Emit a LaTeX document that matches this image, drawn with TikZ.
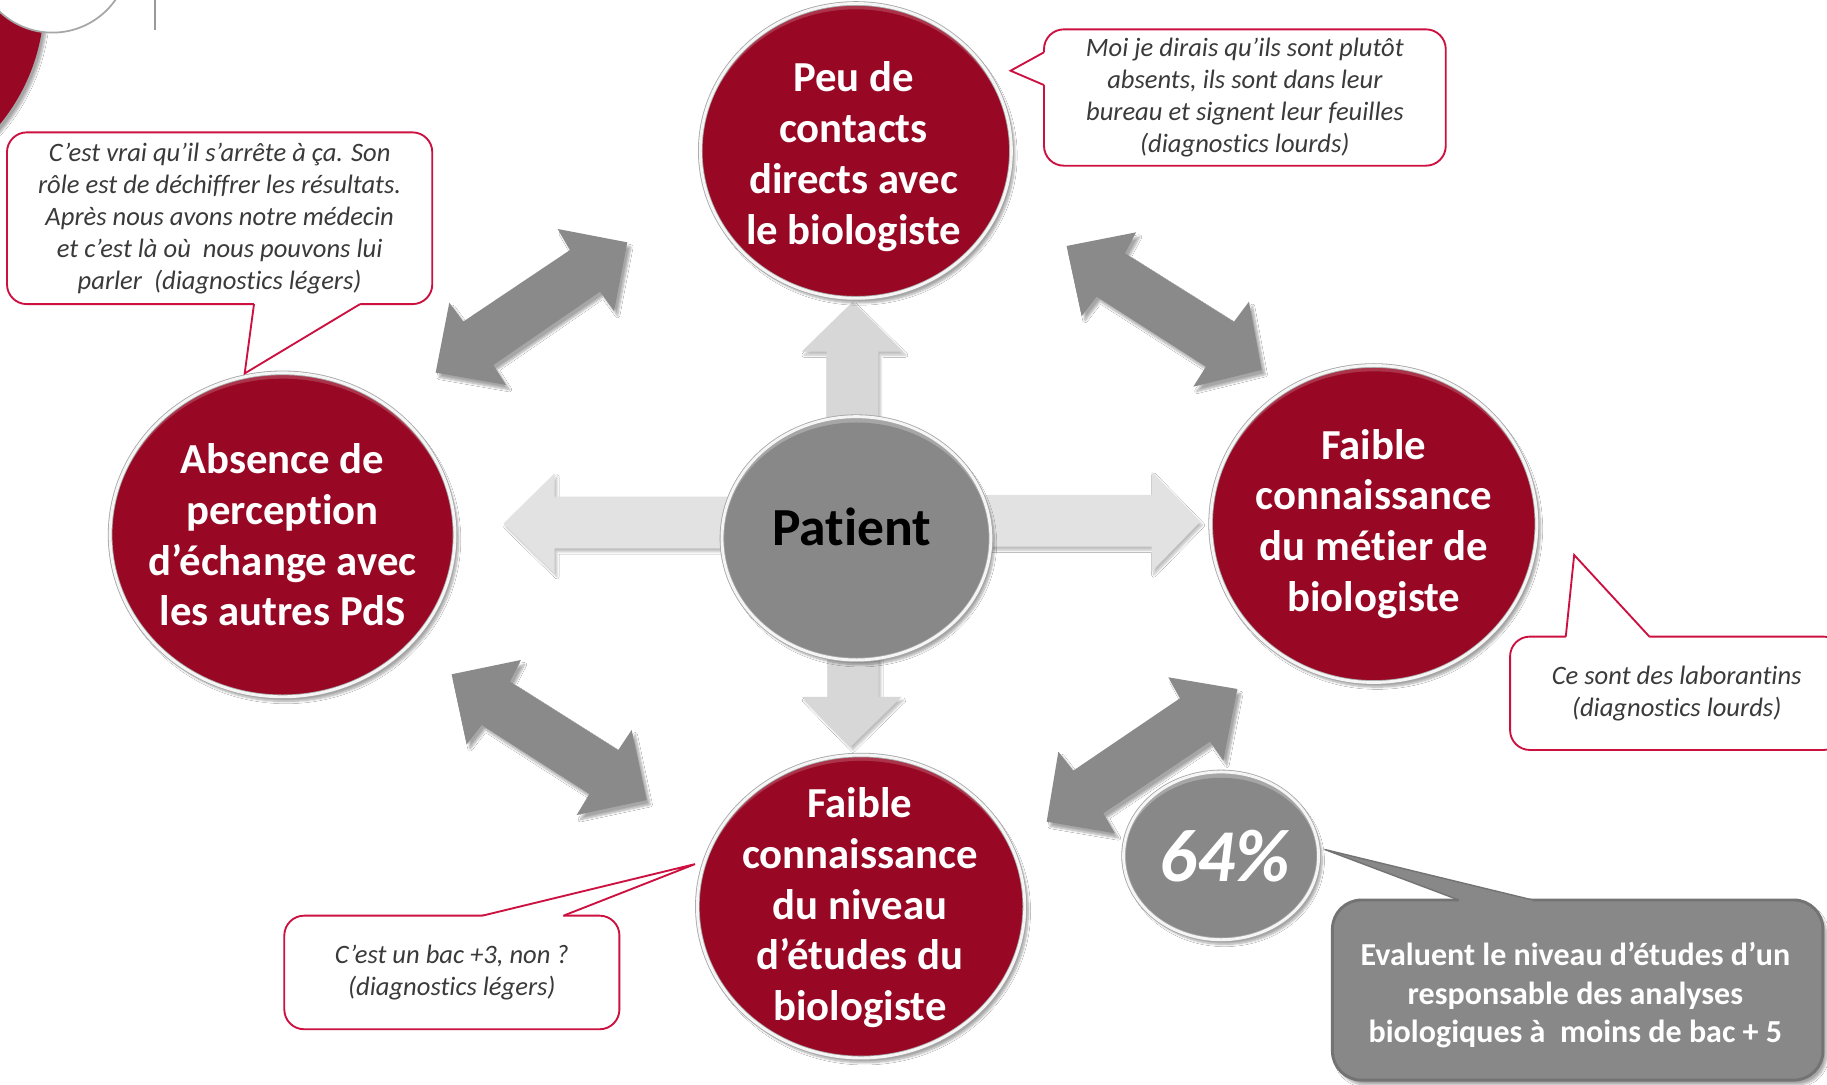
\documentclass[tikz,border=0pt]{standalone}
\usepackage{fontspec}
\setmainfont[Ligatures=NoCommon]{Carlito}
\usetikzlibrary{shapes.geometric,shadows.blur}
\definecolor{crimson}{RGB}{152,8,36}
\definecolor{calred}{RGB}{204,16,64}
\definecolor{txtgray}{RGB}{58,58,58}
\definecolor{darkarrow}{RGB}{138,138,138}
\definecolor{lightarrow}{RGB}{226,226,226}
\definecolor{ballgray}{RGB}{136,136,136}
\begin{document}
\begin{tikzpicture}[x=1pt,y=-1pt,
  softshadow/.style={blur shadow={shadow xshift=3pt,shadow yshift=-4pt,shadow blur steps=8,shadow opacity=35}},
  redball/.style 2 args={ellipse, inner sep=0pt, minimum width=2*#1, minimum height=2*#2,
    fill=crimson!82!white, draw=gray!70, double=gray!8, double distance=2.5pt, line width=0.7pt,
    softshadow,
    path picture={\fill[crimson] ([yshift=-3pt]path picture bounding box.center) ellipse [x radius=#1pt-0.5pt, y radius=#2pt-2pt];}},
  grayball/.style 2 args={ellipse, inner sep=0pt, minimum width=2*#1, minimum height=2*#2,
    fill=ballgray!75!white, draw=gray!70, double=gray!8, double distance=2.5pt, line width=0.7pt,
    softshadow,
    path picture={\fill[ballgray] ([yshift=-3pt]path picture bounding box.center) ellipse [x radius=#1pt-0.5pt, y radius=#2pt-2pt];}},
  balltext/.style={text=white, font=\bfseries\fontsize{36.7}{43.6}\selectfont, align=center, inner sep=0pt},
  callout/.style={draw=calred, line width=1.6pt, fill=white, rounded corners=17pt, inner sep=0pt,
    text=txtgray, font=\itshape\fontsize{22.8}{27.4}\selectfont, align=center},
  tailline/.style={draw=calred, line width=1.6pt, line join=miter},
  bigarrow/.style={fill=darkarrow, softshadow},
  smallarrow/.style={fill=lightarrow, blur shadow={shadow xshift=2pt,shadow yshift=-3pt,shadow blur steps=6,shadow opacity=25}}
]
\useasboundingbox (0,0) rectangle (1568,931);
\clip (0,0) rectangle (1568,931);
\fill[white] (0,0) rectangle (1568,931);

% top-left decoration
\fill[crimson, softshadow] (-130,0) circle[radius=168pt];
\draw[gray!70, line width=1.5pt, fill=white] (45,-38) circle[radius=66pt];
\draw[gray!80, line width=1.5pt] (133,0) -- (133,26);

% light arrows from the patient
\fill[smallarrow, fill=lightarrow!95!black] (709.5,370) -- (709.5,301.8) -- (688,301.8) -- (731.8,259) -- (775.3,301.8) -- (753.8,301.8) -- (753.8,370) -- cycle;
\fill[smallarrow, fill=lightarrow!95!black] (710.3,560) -- (710.3,598) -- (688.3,598) -- (730,640.8) -- (773.7,598) -- (754,598) -- (754,560) -- cycle;
\fill[smallarrow] (630,426.3) -- (476,426.3) -- (476,406.2) -- (432.2,449.2) -- (476,492) -- (476,470.6) -- (630,470.6) -- cycle;
\fill[smallarrow] (840,424.8) -- (988.3,424.8) -- (988.3,404.8) -- (1030,447.7) -- (988.3,490.6) -- (988.3,469.2) -- (840,469.2) -- cycle;

% dark double arrows
\fill[bigarrow] (373.9,319.8) -- (385.6,259.8) -- (397.6,276) -- (489.2,214.6) -- (478.6,196.5) -- (538.4,208) -- (527,266.9) -- (515,250.3) -- (423.4,313.3) -- (434.3,330.4) -- cycle;
\fill[bigarrow] (915.4,211.1) -- (975,199.4) -- (965.5,217.4) -- (1059,276.1) -- (1071.9,258.9) -- (1082.8,317.5) -- (1024.1,331.9) -- (1035,314.7) -- (941.2,254.6) -- (928.3,271.2) -- cycle;
\fill[bigarrow] (387.6,578.7) -- (447.1,566.4) -- (437.7,585) -- (530.6,643.7) -- (542.1,626.5) -- (555,686.6) -- (494.9,699.5) -- (505.8,681.4) -- (413.4,622.2) -- (400.5,638.8) -- cycle;
\fill[bigarrow] (898.3,705.2) -- (908.3,645.1) -- (921.1,661.4) -- (1012.7,599.3) -- (1002.7,581.3) -- (1061.9,591.3) -- (1049.9,652.8) -- (1038.5,636.5) -- (946.9,698) -- (956.9,715.2) -- cycle;

% balls
\node[redball={133.5}{126.5}] (contacts) at (734.5,129.5) {};
\node[balltext] (contactstext) at ([xshift=-2pt,yshift=-5pt]contacts.center) {Peu de\\contacts\\directs avec\\le biologiste};
\node[redball={148}{139}] (absence) at (242.5,459) {};
\node[balltext] (absencetext) at (absence.center) {Absence de\\perception\\d’échange avec\\les autres PdS};
\node[redball={140}{136}] (metier) at (1179,449.7) {};
\node[balltext] (metiertext) at (metier.center) {Faible\\connaissance\\du métier de\\biologiste};
\node[redball={140.5}{130}] (niveau) at (739,778) {};
\node[balltext] (niveautext) at ([xshift=-1pt,yshift=-1pt]niveau.center) {Faible\\connaissance\\du niveau\\d’études du\\biologiste};
\node[grayball={115.4}{104.4}] (patient) at (735,462) {};
\node[font=\bfseries\fontsize{46}{50}\selectfont, text=black] (patientlabel) at ([xshift=-4pt,yshift=10pt]patient.center) {Patient};
\node[grayball={83.7}{72}] (pct) at (1048,734.5) {};
\node[text=white, font=\bfseries\itshape\fontsize{64}{70}\selectfont] (pctlabel) at ([xshift=3pt]pct.center) {64\%};

% callouts
\node[callout, minimum width=365pt, minimum height=147.4pt] (c1) at (188.5,187.3)
  {C’est vrai qu’il s’arrête à ça. Son\\rôle est de déchiffrer les résultats.\\Après nous avons notre médecin\\et c’est là où~ nous pouvons lui\\parler~ (diagnostics légers)};
\fill[white] (218,258) -- (218,261) -- (210,320.5) -- (309,261) -- (309,258) -- cycle;
\draw[tailline] (218,261) -- (210,320.5) -- (309,261);

\node[callout, minimum width=344.8pt, minimum height=117pt] (c2) at (1068.4,83.7)
  {Moi je dirais qu’ils sont plutôt\\absents, ils sont dans leur\\bureau et signent leur feuilles\\(diagnostics lourds)};
\fill[white] (899,44.9) -- (896,44.9) -- (867.3,60.7) -- (896,73) -- (899,73) -- cycle;
\draw[tailline] (896,44.9) -- (867.3,60.7) -- (896,73);

\node[callout, minimum width=286pt, minimum height=97.3pt] (c3) at (1439,595)
  {Ce sont des laborantins\\(diagnostics lourds)};
\fill[white] (1343.8,549.4) -- (1343.8,546.4) -- (1351,476.3) -- (1415.6,546.4) -- (1415.6,549.4) -- cycle;
\draw[tailline] (1343.8,546.4) -- (1351,476.3) -- (1415.6,546.4);

\node[callout, minimum width=287.6pt, minimum height=97.5pt] (c4) at (387.8,834.6)
  {C’est un bac +3, non ?\\(diagnostics légers)};
\fill[white] (413.8,788.9) -- (413.8,785.9) -- (596.5,741.6) -- (483.5,785.9) -- (483.5,788.9) -- cycle;
\draw[tailline] (413.8,785.9) -- (596.5,741.6) -- (483.5,785.9);

% grey callout
\node[fill=ballgray, draw=gray!90!black, line width=2.5pt, rounded corners=25pt, inner sep=0pt,
      minimum width=421pt, minimum height=154.6pt, softshadow] (c5) at (1354,849.7) {};
\fill[ballgray] (1252,776) -- (1252,772.4) -- (1136.7,729) -- (1315.4,772.4) -- (1315.4,776) -- cycle;
\draw[gray!90!black, line width=1.2pt, line join=miter] (1252,772.4) -- (1136.7,729) -- (1315.4,772.4);
\node[text=white, font=\bfseries\fontsize{27.5}{33}\selectfont, align=center] (c5text) at ([xshift=-2pt,yshift=-4.5pt]c5.center)
  {Evaluent le niveau d’études d’un\\responsable des analyses\\biologiques à~ moins de bac + 5};
\end{tikzpicture}
\end{document}
